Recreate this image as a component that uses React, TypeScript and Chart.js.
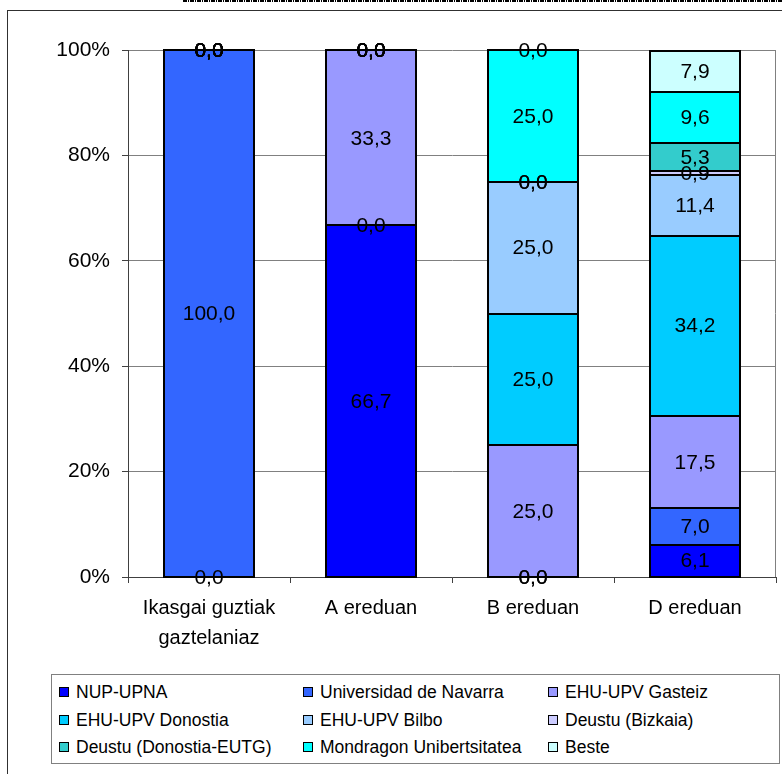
import React, { useEffect, useRef } from 'react';
import { Chart, registerables } from 'chart.js';

Chart.register(...registerables);

// ---------- data ----------
const categories: (string | string[])[] = [['Ikasgai guztiak', 'gaztelaniaz'], 'A ereduan', 'B ereduan', 'D ereduan'];

const seriesNames = [
  'NUP-UPNA',
  'Universidad de Navarra',
  'EHU-UPV Gasteiz',
  'EHU-UPV Donostia',
  'EHU-UPV Bilbo',
  'Deustu (Bizkaia)',
  'Deustu (Donostia-EUTG)',
  'Mondragon Unibertsitatea',
  'Beste',
];

const nupUpna = [0, 66.7, 0, 6.1];
const universidadNavarra = [100, 0, 0, 7.0];
const ehuGasteiz = [0, 33.3, 25.0, 17.5];
const ehuDonostia = [0, 0, 25.0, 34.2];
const ehuBilbo = [0, 0, 25.0, 11.4];
const deustuBizkaia = [0, 0, 0, 0.9];
const deustuEutg = [0, 0, 0, 5.3];
const mondragon = [0, 0, 25.0, 9.6];
const beste = [0, 0, 0, 7.9];

const seriesValues = [nupUpna, universidadNavarra, ehuGasteiz, ehuDonostia, ehuBilbo, deustuBizkaia, deustuEutg, mondragon, beste];

const seriesColors = ['#0000FF', '#3366FF', '#9999FF', '#00CCFF', '#99CCFF', '#CCCCFF', '#33CCCC', '#00FFFF', '#CCFFFF'];

const yTickValues = [0, 20, 40, 60, 80, 100];

// ---------- styling ----------
const FONT = "'Liberation Sans', Arial, sans-serif";
const W = 782;
const H = 774;

const fmt = (v: number) => v.toFixed(1).replace('.', ',');

// outlines each bar segment with a single crisp black line (shared edges overlap)
const outlinePlugin = {
  id: 'barOutline',
  afterDatasetsDraw(chart: any) {
    const ctx = chart.ctx;
    ctx.save();
    ctx.strokeStyle = '#000';
    ctx.lineWidth = 2;
    chart.data.datasets.forEach((_ds: any, di: number) => {
      const meta = chart.getDatasetMeta(di);
      meta.data.forEach((el: any) => {
        const top = Math.round(Math.min(el.y, el.base));
        const bottom = Math.round(Math.max(el.y, el.base));
        if (bottom - top < 1) return;
        const left = Math.round(el.x - el.width / 2);
        const right = Math.round(el.x + el.width / 2);
        ctx.strokeRect(left, top, right - left, bottom - top);
      });
    });
    ctx.restore();
  },
};

const dataLabelPlugin = {
  id: 'dataLabels',
  afterDatasetsDraw(chart: any) {
    const ctx = chart.ctx;
    ctx.save();
    ctx.font = `21px ${FONT}`;
    ctx.fillStyle = '#000';
    ctx.textAlign = 'center';
    ctx.textBaseline = 'middle';
    chart.data.datasets.forEach((ds: any, di: number) => {
      const meta = chart.getDatasetMeta(di);
      meta.data.forEach((el: any, i: number) => {
        const v = ds.data[i];
        const y = (el.y + el.base) / 2;
        ctx.fillText(fmt(v), el.x, y + 1);
      });
    });
    ctx.restore();
  },
};

const rightBorderPlugin = {
  id: 'rightBorder',
  beforeDatasetsDraw(chart: any) {
    const { ctx, chartArea } = chart;
    ctx.save();
    ctx.strokeStyle = '#808080';
    ctx.lineWidth = 1;
    ctx.beginPath();
    ctx.moveTo(Math.round(chartArea.right) - 0.5, chartArea.top);
    ctx.lineTo(Math.round(chartArea.right) - 0.5, chartArea.bottom);
    ctx.stroke();
    ctx.restore();
  },
};

const legendCols = [59, 303, 548];
const legendRows = [692, 720, 747];

export default function App() {
  const canvasRef = useRef<HTMLCanvasElement | null>(null);

  useEffect(() => {
    document.body.style.margin = '0';
    const canvas = canvasRef.current;
    if (!canvas) return;
    const chart = new Chart(canvas, {
      type: 'bar',
      data: {
        labels: categories,
        datasets: seriesNames.map((name, i) => ({
          label: name,
          data: seriesValues[i],
          backgroundColor: seriesColors[i],
          borderWidth: 0,
          barPercentage: 0.556,
          categoryPercentage: 1,
        })),
      },
      options: {
        responsive: false,
        animation: false,
        devicePixelRatio: 1,
        layout: { padding: { top: 50, right: 6, left: 0, bottom: 0 } },
        plugins: {
          legend: { display: false },
          tooltip: { enabled: false },
          title: { display: false },
        },
        scales: {
          x: {
            stacked: true,
            offset: true,
            grid: {
              display: true,
              drawOnChartArea: false,
              drawTicks: true,
              tickLength: 6,
              tickColor: '#404040',
              offset: true,
            },
            border: { display: true, color: '#404040', width: 1 },
            ticks: {
              color: '#000',
              font: { family: FONT, size: 20, lineHeight: 1.5 },
              padding: 10,
              maxRotation: 0,
              autoSkip: false,
            },
            afterFit(axis: any) {
              axis.height = H - 577;
            },
          },
          y: {
            stacked: true,
            min: 0,
            max: 100,
            afterBuildTicks(axis: any) {
              axis.ticks = yTickValues.map((v) => ({ value: v }));
            },
            grid: {
              color: '#808080',
              lineWidth: 1,
              tickLength: 6,
              tickColor: '#404040',
            },
            border: { display: true, color: '#404040', width: 1 },
            ticks: {
              color: '#000',
              font: { family: FONT, size: 21 },
              padding: 12,
              callback: (v: any) => `${v}%`,
            },
            afterFit(axis: any) {
              axis.width = 128;
            },
          },
        },
      },
      plugins: [rightBorderPlugin, outlinePlugin, dataLabelPlugin],
    });
    return () => chart.destroy();
  }, []);

  return (
    <div style={{ position: 'fixed', left: 0, top: 0, width: W, height: H, overflow: 'hidden', background: '#fff' }}>
      <div
        style={{
          position: 'absolute',
          left: 183,
          top: 0,
          width: W - 183,
          height: 2,
          background: 'repeating-linear-gradient(90deg, #000 0px, #000 4px, #fff 4px, #fff 5px, #000 5px, #000 6px, #fff 6px, #fff 7px)',
        }}
      />
      <div
        style={{
          position: 'absolute',
          left: 7,
          top: 10,
          width: W,
          height: H,
          borderLeft: '1px solid #303030',
          borderTop: '1px solid #303030',
        }}
      />
      <canvas ref={canvasRef} width={W} height={H} style={{ position: 'absolute', left: 0, top: 0, width: W, height: H }} />
      <div
        style={{
          position: 'absolute',
          left: 51,
          top: 674,
          width: 727,
          height: 88,
          border: '1px solid #808080',
          background: '#fff',
        }}
      />
      {seriesNames.map((name, i) => {
        const col = i % 3;
        const row = Math.floor(i / 3);
        return (
          <div
            key={name}
            style={{
              position: 'absolute',
              left: legendCols[col],
              top: legendRows[row] - 11,
              height: 22,
              display: 'flex',
              alignItems: 'center',
              whiteSpace: 'nowrap',
              fontFamily: FONT,
              fontSize: 17.5,
              color: '#000',
            }}
          >
            <span
              style={{
                display: 'inline-block',
                width: 8,
                height: 8,
                border: '1px solid #000',
                background: seriesColors[i],
                marginRight: 7,
              }}
            />
            <span>{name}</span>
          </div>
        );
      })}
    </div>
  );
}
